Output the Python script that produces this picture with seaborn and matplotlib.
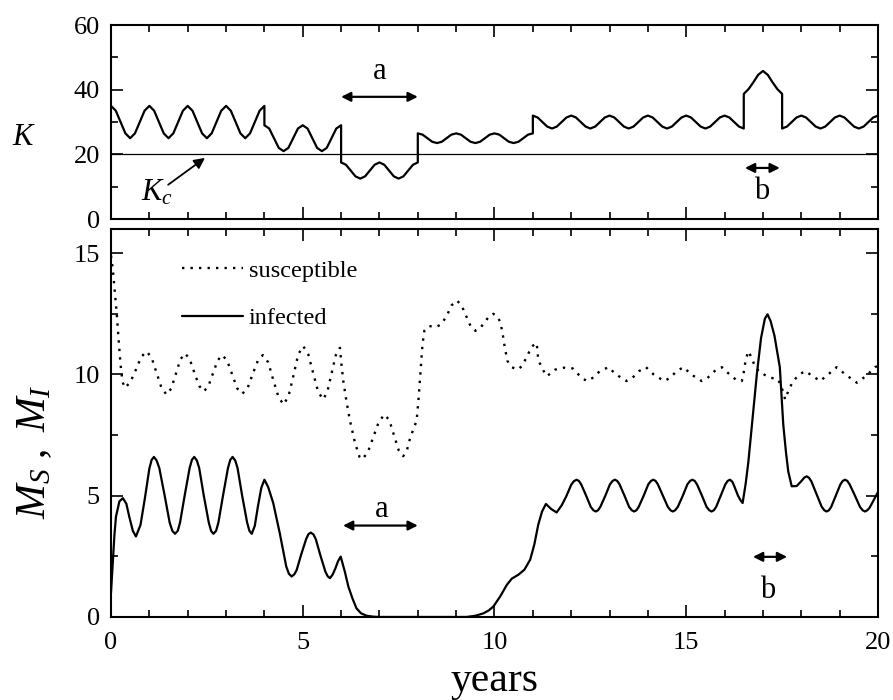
import matplotlib
matplotlib.use("Agg")
import matplotlib.pyplot as plt
from matplotlib.ticker import MultipleLocator
import pandas as pd
import seaborn as sns

# ---------------------------------------------------------------------------
# Data: carrying capacity K(t) and mosquito populations M_S(t), M_I(t)
# (year, value) pairs; repeated years mark the abrupt switches of K.
# ---------------------------------------------------------------------------
k_points = [
    (0, 35), (.125, 33.5), (.25, 30), (.375, 26.5), (.5, 25), (.625, 26.5), (.75, 30), (.875, 33.5),
    (1, 35), (1.125, 33.5), (1.25, 30), (1.375, 26.5), (1.5, 25), (1.625, 26.5), (1.75, 30), (1.875, 33.5),
    (2, 35), (2.125, 33.5), (2.25, 30), (2.375, 26.5), (2.5, 25), (2.625, 26.5), (2.75, 30), (2.875, 33.5),
    (3, 35), (3.125, 33.5), (3.25, 30), (3.375, 26.5), (3.5, 25), (3.625, 26.5), (3.75, 30), (3.875, 33.5),
    (4, 35), (4, 29), (4.125, 28), (4.25, 25), (4.375, 22), (4.5, 21), (4.625, 22), (4.75, 25), (4.875, 28),
    (5, 29), (5.125, 28), (5.25, 25), (5.375, 22), (5.5, 21), (5.625, 22), (5.75, 25), (5.875, 28),
    (6, 29), (6, 17.5), (6.125, 16.8), (6.25, 15), (6.375, 13.2), (6.5, 12.5), (6.625, 13.2), (6.75, 15), (6.875, 16.8),
    (7, 17.5), (7.125, 16.8), (7.25, 15), (7.375, 13.2), (7.5, 12.5), (7.625, 13.2), (7.75, 15), (7.875, 16.8),
    (8, 17.5), (8, 26.5), (8.125, 26.1), (8.25, 25), (8.375, 23.9), (8.5, 23.5), (8.625, 23.9), (8.75, 25), (8.875, 26.1),
    (9, 26.5), (9.125, 26.1), (9.25, 25), (9.375, 23.9), (9.5, 23.5), (9.625, 23.9), (9.75, 25), (9.875, 26.1),
    (10, 26.5), (10.125, 26.1), (10.25, 25), (10.375, 23.9), (10.5, 23.5), (10.625, 23.9), (10.75, 25), (10.875, 26.1),
    (11, 26.5), (11, 32), (11.125, 31.4), (11.25, 30), (11.375, 28.6), (11.5, 28), (11.625, 28.6), (11.75, 30), (11.875, 31.4),
    (12, 32), (12.125, 31.4), (12.25, 30), (12.375, 28.6), (12.5, 28), (12.625, 28.6), (12.75, 30), (12.875, 31.4),
    (13, 32), (13.125, 31.4), (13.25, 30), (13.375, 28.6), (13.5, 28), (13.625, 28.6), (13.75, 30), (13.875, 31.4),
    (14, 32), (14.125, 31.4), (14.25, 30), (14.375, 28.6), (14.5, 28), (14.625, 28.6), (14.75, 30), (14.875, 31.4),
    (15, 32), (15.125, 31.4), (15.25, 30), (15.375, 28.6), (15.5, 28), (15.625, 28.6), (15.75, 30), (15.875, 31.4),
    (16, 32), (16.125, 31.4), (16.25, 30), (16.375, 28.6), (16.5, 28), (16.5, 38.7), (16.625, 40.2), (16.75, 42.3), (16.875, 44.6),
    (17, 45.8), (17.125, 44.6), (17.25, 42.3), (17.375, 40.2), (17.5, 38.7), (17.5, 28), (17.625, 28.6), (17.75, 30), (17.875, 31.4),
    (18, 32), (18.125, 31.4), (18.25, 30), (18.375, 28.6), (18.5, 28), (18.625, 28.6), (18.75, 30), (18.875, 31.4),
    (19, 32), (19.125, 31.4), (19.25, 30), (19.375, 28.6), (19.5, 28), (19.625, 28.6), (19.75, 30), (19.875, 31.4),
    (20, 32),
]

k_critical = 20

susceptible_points = [
    (0.0, 14.9), (0.05, 14.3), (0.1, 13.4), (0.15, 12.5), (0.2, 11.4), (0.25, 10.4), (0.3, 9.7), (0.36, 9.45),
    (0.5, 9.67), (0.65, 10.2), (0.79, 10.73), (0.93, 10.95), (1.06, 10.69), (1.19, 10.06), (1.32, 9.43), (1.45, 9.17),
    (1.57, 9.42), (1.69, 10.02), (1.81, 10.62), (1.93, 10.87), (2.05, 10.64), (2.17, 10.09), (2.3, 9.53), (2.42, 9.3),
    (2.54, 9.52), (2.66, 10.05), (2.78, 10.58), (2.9, 10.8), (3.03, 10.57), (3.16, 10.0), (3.29, 9.43), (3.42, 9.2),
    (3.56, 9.43), (3.69, 10.0), (3.83, 10.57), (3.96, 10.8), (4.1, 10.5), (4.23, 9.78), (4.37, 9.06), (4.5, 8.76),
    (4.63, 9.11), (4.76, 9.97), (4.88, 10.82), (5.01, 11.17), (5.14, 10.85), (5.27, 10.07), (5.4, 9.29), (5.53, 8.97),
    (5.64, 9.28), (5.75, 10.04), (5.86, 10.79), (5.97, 11.1), (6.01, 10.4), (6.06, 9.7), (6.15, 8.8), (6.23, 8.1),
    (6.36, 7.2), (6.48, 6.6), (6.54, 6.5), (6.69, 6.76), (6.84, 7.42), (6.99, 8.08), (7.14, 8.35), (7.26, 8.1),
    (7.38, 7.49), (7.5, 6.88), (7.62, 6.63), (7.72, 6.9), (7.8, 7.38), (7.9, 7.8), (7.97, 8.1), (8.02, 9.0),
    (8.07, 10.1), (8.12, 11.2), (8.17, 11.8), (8.3, 12.0), (8.45, 11.95), (8.6, 12.05), (8.75, 12.4), (8.88, 12.85),
    (9.02, 13.05), (9.14, 12.85), (9.26, 12.42), (9.38, 11.98), (9.5, 11.8), (9.62, 11.9), (9.74, 12.15), (9.86, 12.4),
    (9.97, 12.5), (10.07, 12.4), (10.14, 12.2), (10.2, 11.8), (10.27, 11.1), (10.34, 10.55), (10.45, 10.3), (10.6, 10.2),
    (10.72, 10.35), (10.85, 10.75), (10.97, 11.15), (11.1, 11.3), (11.14, 10.62), (11.23, 10.28), (11.36, 9.93), (11.47, 10.05),
    (11.58, 10.2), (11.81, 10.28), (12.04, 10.25), (12.23, 9.93), (12.4, 9.73), (12.55, 9.85), (12.75, 10.14), (12.97, 10.3),
    (13.17, 10.0), (13.44, 9.73), (13.59, 9.85), (13.77, 10.14), (13.95, 10.3), (14.15, 10.0), (14.42, 9.73), (14.57, 9.85),
    (14.75, 10.14), (14.93, 10.3), (15.13, 10.0), (15.4, 9.73), (15.55, 9.85), (15.74, 10.14), (15.93, 10.3), (16.13, 10.0),
    (16.3, 9.78), (16.45, 9.73), (16.5, 10.1), (16.55, 10.6), (16.62, 10.96), (16.7, 10.7), (16.8, 10.3), (16.92, 10.1),
    (17.08, 9.95), (17.25, 9.85), (17.4, 9.79), (17.5, 9.4), (17.58, 8.97), (17.68, 9.4), (17.79, 9.73), (17.95, 10.0),
    (18.1, 10.14), (18.3, 9.93), (18.49, 9.73), (18.7, 10.0), (18.92, 10.3), (19.15, 10.0), (19.45, 9.66), (19.7, 9.95),
    (19.92, 10.3), (20.0, 10.35),
]

infected_points = [
    (0.0, 1.0), (0.05, 2.36), (0.09, 3.4), (0.13, 4.14), (0.22, 4.77), (0.31, 4.9), (0.4, 4.67), (0.48, 4.11),
    (0.57, 3.55), (0.65, 3.32), (0.77, 3.8), (0.89, 4.96), (1.0, 6.12), (1.06, 6.48), (1.12, 6.6), (1.19, 6.45),
    (1.26, 6.14), (1.4, 5.0), (1.53, 3.89), (1.6, 3.55), (1.67, 3.43), (1.74, 3.55), (1.8, 3.89), (1.92, 5.0),
    (2.05, 6.14), (2.11, 6.48), (2.17, 6.6), (2.24, 6.45), (2.3, 6.14), (2.42, 5.0), (2.55, 3.89), (2.61, 3.55),
    (2.67, 3.43), (2.74, 3.55), (2.8, 3.89), (2.92, 5.0), (3.05, 6.14), (3.11, 6.48), (3.17, 6.6), (3.24, 6.45),
    (3.3, 6.14), (3.42, 5.0), (3.55, 3.89), (3.61, 3.55), (3.67, 3.43), (3.75, 3.76), (3.83, 4.55), (3.92, 5.33),
    (4.0, 5.66), (4.1, 5.35), (4.23, 4.7), (4.4, 3.46), (4.57, 2.08), (4.64, 1.78), (4.71, 1.67), (4.78, 1.76),
    (4.84, 1.93), (4.96, 2.58), (5.09, 3.22), (5.15, 3.42), (5.21, 3.48), (5.28, 3.4), (5.34, 3.21), (5.46, 2.54),
    (5.59, 1.87), (5.65, 1.68), (5.71, 1.6), (5.78, 1.75), (5.85, 2.0), (5.92, 2.3), (5.99, 2.49), (6.1, 1.85),
    (6.19, 1.25), (6.3, 0.75), (6.4, 0.36), (6.52, 0.15), (6.67, 0.05), (6.85, 0.01), (7.0, 0.0), (9.27, 0.0),
    (9.5, 0.05), (9.71, 0.15), (9.85, 0.27), (9.97, 0.43), (10.15, 0.85), (10.32, 1.32), (10.45, 1.58), (10.62, 1.74),
    (10.78, 1.95), (10.93, 2.36), (11.04, 3.0), (11.14, 3.8), (11.24, 4.35), (11.34, 4.66), (11.48, 4.45), (11.62, 4.31),
    (11.75, 4.6), (11.87, 4.97), (12.0, 5.45), (12.07, 5.6), (12.14, 5.66), (12.2, 5.61), (12.26, 5.47), (12.39, 5.0),
    (12.51, 4.54), (12.58, 4.4), (12.64, 4.35), (12.7, 4.4), (12.76, 4.54), (12.89, 5.0), (13.01, 5.47), (13.08, 5.61),
    (13.14, 5.66), (13.2, 5.61), (13.26, 5.47), (13.39, 5.0), (13.51, 4.54), (13.58, 4.4), (13.64, 4.35), (13.7, 4.4),
    (13.76, 4.54), (13.89, 5.0), (14.01, 5.47), (14.08, 5.61), (14.14, 5.66), (14.2, 5.61), (14.26, 5.47), (14.39, 5.0),
    (14.52, 4.54), (14.59, 4.4), (14.65, 4.35), (14.71, 4.4), (14.78, 4.54), (14.91, 5.0), (15.03, 5.47), (15.1, 5.61),
    (15.16, 5.66), (15.22, 5.61), (15.28, 5.47), (15.41, 5.0), (15.53, 4.54), (15.6, 4.4), (15.66, 4.35), (15.72, 4.4),
    (15.78, 4.54), (15.9, 5.0), (16.02, 5.47), (16.08, 5.61), (16.14, 5.66), (16.2, 5.58), (16.25, 5.4), (16.35, 5.0),
    (16.42, 4.8), (16.47, 4.7), (16.55, 5.5), (16.62, 6.4), (16.73, 8.2), (16.84, 10.0), (16.95, 11.5), (17.05, 12.3),
    (17.12, 12.48), (17.2, 12.2), (17.3, 11.6), (17.44, 10.3), (17.53, 7.93), (17.6, 6.8), (17.66, 6.0), (17.75, 5.39),
    (17.88, 5.4), (18.0, 5.6), (18.08, 5.75), (18.14, 5.8), (18.2, 5.74), (18.26, 5.6), (18.39, 5.1), (18.53, 4.55),
    (18.6, 4.4), (18.66, 4.35), (18.72, 4.4), (18.78, 4.54), (18.9, 5.0), (19.02, 5.47), (19.08, 5.61), (19.14, 5.66),
    (19.2, 5.61), (19.26, 5.47), (19.4, 5.0), (19.53, 4.54), (19.6, 4.4), (19.66, 4.35), (19.72, 4.4), (19.78, 4.5),
    (19.9, 4.85), (20.0, 5.15),
]

# perturbation windows a and b (years) shown with double arrows
window_a = (6.0, 8.0)
window_b_top = (16.53, 17.44)
window_b_bottom = (16.74, 17.63)

x_ticks = [0, 5, 10, 15, 20]
k_ticks = [0, 20, 40, 60]
m_ticks = [0, 5, 10, 15]

k_df = pd.DataFrame(k_points, columns=["years", "K"])
s_df = pd.DataFrame(susceptible_points, columns=["years", "M"])
i_df = pd.DataFrame(infected_points, columns=["years", "M"])

# ---------------------------------------------------------------------------
# Style
# ---------------------------------------------------------------------------
sns.set_style("ticks")
plt.rcParams.update({
    "font.family": ["Liberation Serif", "DejaVu Serif"],
    "mathtext.fontset": "custom",
    "mathtext.rm": "Liberation Serif",
    "mathtext.it": "Liberation Serif:italic",
    "mathtext.bf": "Liberation Serif:bold",
    "axes.edgecolor": "black",
    "axes.labelcolor": "black",
    "text.color": "black",
    "xtick.color": "black",
    "ytick.color": "black",
    "axes.linewidth": 1.5,
})

fig = plt.figure(figsize=(8.93, 7.0), dpi=100)
ax_k = fig.add_axes([0.1243, 0.6871, 0.8589, 0.2771])
ax_m = fig.add_axes([0.1243, 0.1186, 0.8589, 0.5543])

for ax in (ax_k, ax_m):
    ax.set_xlim(0, 20)
    ax.set_xticks(x_ticks)
    ax.xaxis.set_minor_locator(MultipleLocator(1))
    ax.tick_params(which="both", direction="in", top=True, right=True,
                   bottom=True, left=True, width=1.2, labelsize=19)
    ax.tick_params(axis="y", which="both", pad=8)
    ax.tick_params(axis="x", which="both", pad=11)
    ax.tick_params(which="major", length=8.5)
    ax.tick_params(which="minor", length=5)
    for sp in ax.spines.values():
        sp.set_visible(True)
        sp.set_linewidth(1.5)

# ---- top panel: K ----
ax_k.axhline(k_critical, color="black", lw=0.9)
sns.lineplot(data=k_df, x="years", y="K", ax=ax_k, color="black", lw=1.6,
             sort=False, estimator=None, legend=False)
ax_k.set_ylim(0, 60)
ax_k.set_yticks(k_ticks)
ax_k.yaxis.set_minor_locator(MultipleLocator(10))
ax_k.tick_params(labelbottom=False)
ax_k.set_xlabel("")
ax_k.set_ylabel(r"$K$", fontsize=22, rotation=0, va="center", ha="center")
ax_k.yaxis.set_label_coords(-0.113, 0.42)

arrow_kw = dict(arrowstyle="<|-|>", color="black", lw=1.6,
                mutation_scale=14, shrinkA=0, shrinkB=0)
ax_k.annotate("", xy=(window_a[1], 37.8), xytext=(window_a[0], 37.8), arrowprops=arrow_kw)
ax_k.text(sum(window_a) / 2, 45.5, "a", fontsize=22, ha="center", va="center")
ax_k.annotate("", xy=(window_b_top[1], 15.8), xytext=(window_b_top[0], 15.8), arrowprops=arrow_kw)
ax_k.text(16.97, 8.5, "b", fontsize=22, ha="center", va="center")

ax_k.text(1.2, 8.2, r"$K_c$", fontsize=22, ha="center", va="center")
ax_k.annotate("", xy=(2.45, 18.9), xytext=(1.49, 10.6),
              arrowprops=dict(arrowstyle="-|>", color="black", lw=1.3,
                              mutation_scale=16, shrinkA=0, shrinkB=0))

# ---- bottom panel: M_S and M_I ----
sns.lineplot(data=s_df, x="years", y="M", ax=ax_m, color="black", lw=1.7,
             linestyle=(0, (1, 2.6)), sort=False, estimator=None, label="susceptible")
sns.lineplot(data=i_df, x="years", y="M", ax=ax_m, color="black", lw=1.6,
             sort=False, estimator=None, label="infected")
ax_m.set_ylim(0, 16)
ax_m.set_yticks(m_ticks)
ax_m.yaxis.set_minor_locator(MultipleLocator(2.5))
ax_m.set_xlabel("years", fontsize=30, va="center")
ax_m.xaxis.set_label_coords(0.5, -0.165)
ax_m.set_ylabel(r"$M_S\ ,\ M_I$", fontsize=30, va="center", ha="center")
ax_m.yaxis.set_label_coords(-0.099, 0.425)

ax_m.annotate("", xy=(window_a[1], 3.77), xytext=(window_a[0] + 0.05, 3.77), arrowprops=arrow_kw)
ax_m.text(7.05, 4.45, "a", fontsize=22, ha="center", va="center")
ax_m.annotate("", xy=(window_b_bottom[1], 2.48), xytext=(window_b_bottom[0], 2.48), arrowprops=arrow_kw)
ax_m.text(17.13, 1.1, "b", fontsize=22, ha="center", va="center")

ax_m.legend(loc="upper left", bbox_to_anchor=(0.0926, 0.921), frameon=False,
            fontsize=17.5, handlelength=2.5, handletextpad=0.25,
            labelspacing=1.05, borderpad=0, borderaxespad=0)

fig.savefig("out.png", dpi=100)
